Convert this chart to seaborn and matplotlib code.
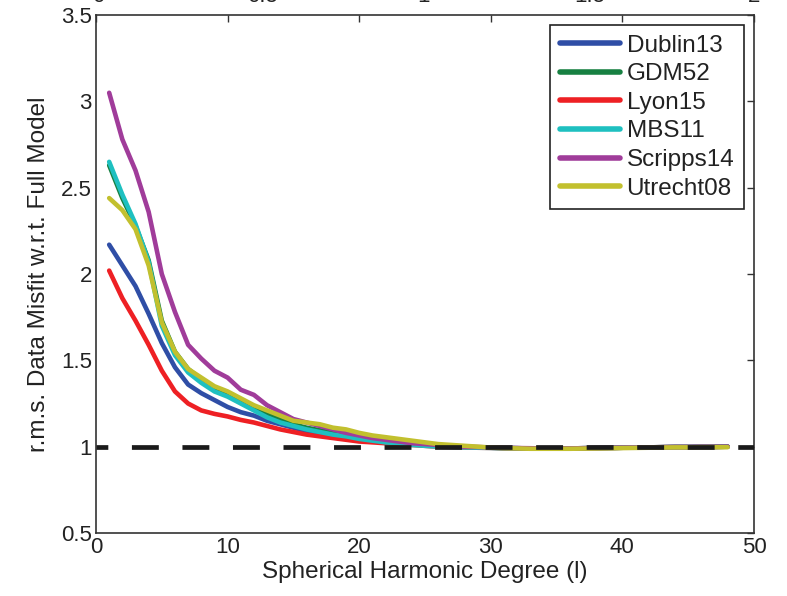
import numpy as np
import pandas as pd
import matplotlib
matplotlib.use("Agg")
import matplotlib.pyplot as plt
import seaborn as sns

# Spherical harmonic degree of each evaluation
degree = list(range(1, 49))

# r.m.s. data misfit of each truncated model w.r.t. the full model
dublin13 = [2.17, 2.05, 1.93, 1.77, 1.60, 1.46, 1.36, 1.31, 1.27, 1.23,
            1.20, 1.18, 1.15, 1.13, 1.11, 1.09, 1.08, 1.07, 1.06, 1.05,
            1.04, 1.03, 1.02, 1.015, 1.01, 1.005, 1.0, 0.998, 0.996, 0.994,
            0.992, 0.991, 0.99, 0.99, 0.99, 0.99, 0.991, 0.992, 0.993, 0.994,
            0.995, 0.996, 0.997, 0.998, 0.998, 0.999, 0.999, 1.0]
gdm52 = [2.63, 2.44, 2.28, 2.08, 1.73, 1.55, 1.45, 1.39, 1.34, 1.31,
         1.27, 1.23, 1.19, 1.16, 1.13, 1.11, 1.095, 1.08, 1.07, 1.055,
         1.045, 1.035, 1.025, 1.015, 1.01, 1.005, 1.0, 0.998, 0.996, 0.994,
         0.992, 0.991, 0.99, 0.99, 0.99, 0.99, 0.991, 0.992, 0.993, 0.994,
         0.995, 0.996, 0.997, 0.998, 0.998, 0.999, 0.999, 1.0]
lyon15 = [2.02, 1.86, 1.73, 1.59, 1.44, 1.32, 1.25, 1.21, 1.19, 1.175,
          1.155, 1.14, 1.12, 1.10, 1.085, 1.07, 1.06, 1.05, 1.04, 1.03,
          1.025, 1.02, 1.015, 1.01, 1.005, 1.0, 0.998, 0.996, 0.994, 0.993,
          0.992, 0.991, 0.99, 0.99, 0.99, 0.99, 0.991, 0.992, 0.993, 0.994,
          0.995, 0.996, 0.997, 0.998, 0.998, 0.999, 0.999, 1.0]
mbs11 = [2.65, 2.46, 2.29, 2.07, 1.70, 1.53, 1.43, 1.37, 1.32, 1.29,
         1.25, 1.21, 1.17, 1.14, 1.12, 1.10, 1.085, 1.07, 1.06, 1.045,
         1.035, 1.025, 1.02, 1.01, 1.005, 1.0, 0.998, 0.996, 0.994, 0.993,
         0.992, 0.991, 0.99, 0.99, 0.99, 0.99, 0.991, 0.992, 0.993, 0.994,
         0.995, 0.996, 0.997, 0.998, 0.998, 0.999, 0.999, 1.0]
scripps14 = [3.05, 2.78, 2.60, 2.36, 2.00, 1.78, 1.59, 1.51, 1.44, 1.40,
             1.33, 1.30, 1.24, 1.20, 1.16, 1.14, 1.12, 1.10, 1.08, 1.065,
             1.05, 1.04, 1.03, 1.02, 1.015, 1.01, 1.005, 1.0, 0.998, 0.995,
             0.993, 0.992, 0.991, 0.99, 0.99, 0.99, 0.991, 0.992, 0.993, 0.994,
             0.995, 0.996, 0.997, 0.998, 0.998, 0.999, 0.999, 1.0]
utrecht08 = [2.44, 2.37, 2.26, 2.05, 1.72, 1.55, 1.45, 1.40, 1.35, 1.32,
             1.28, 1.24, 1.21, 1.18, 1.15, 1.14, 1.13, 1.11, 1.10, 1.08,
             1.065, 1.055, 1.045, 1.035, 1.025, 1.015, 1.01, 1.005, 1.0, 0.995,
             0.992, 0.99, 0.988, 0.988, 0.988, 0.988, 0.989, 0.99, 0.991, 0.992,
             0.993, 0.994, 0.995, 0.996, 0.996, 0.997, 0.997, 0.997]

model_names = ["Dublin13", "GDM52", "Lyon15", "MBS11", "Scripps14", "Utrecht08"]
model_values = [dublin13, gdm52, lyon15, mbs11, scripps14, utrecht08]
model_colors = ["#2f4ea6", "#178042", "#ee2024", "#1ec0c0", "#a03c9a", "#c2c02e"]

reference_level = 1.0

x_ticks = [0, 10, 20, 30, 40, 50]
y_ticks = [0.5, 1.0, 1.5, 2.0, 2.5, 3.0, 3.5]
y_tick_labels = ["0.5", "1", "1.5", "2", "2.5", "3", "3.5"]

# tick labels of the panel above, only their lower edge falls inside this figure
upper_panel_labels = ["0", "0.5", "1", "1.5", "2"]

frame = pd.concat(
    [pd.DataFrame({"degree": degree, "misfit": vals, "model": name})
     for name, vals in zip(model_names, model_values)],
    ignore_index=True,
)

sns.set_theme(style="white")
plt.rcParams["font.family"] = ["Liberation Sans", "DejaVu Sans"]
plt.rcParams["xtick.direction"] = "in"
plt.rcParams["ytick.direction"] = "in"

fig = plt.figure(figsize=(7.87, 5.96), dpi=100)
ax = fig.add_axes([0.122, 0.1057, 0.836, 0.869])

sns.lineplot(
    data=frame, x="degree", y="misfit", hue="model",
    hue_order=model_names, palette=dict(zip(model_names, model_colors)),
    linewidth=3.3, ax=ax, legend=True,
)

ax.axhline(reference_level, color="#1a1a1a", linewidth=3.4,
           linestyle=(3.2, (5.7, 5.0)), zorder=5)

ax.set_xlim(x_ticks[0], x_ticks[-1])
ax.set_ylim(y_ticks[0], y_ticks[-1])
ax.set_xticks(x_ticks)
ax.set_xticklabels([str(t) for t in x_ticks])
ax.set_yticks(y_ticks)
ax.set_yticklabels(y_tick_labels)

ax.tick_params(axis="both", which="major", direction="in", length=5,
               width=1.0, color="#333333", labelsize=16, labelcolor="#222222",
               top=True, right=True, pad=3)
for side in ["left", "right", "top", "bottom"]:
    ax.spines[side].set_visible(True)
    ax.spines[side].set_color("#333333")
    ax.spines[side].set_linewidth(1.2)

ax.set_xlabel("Spherical Harmonic Degree (l)", fontsize=17.5, color="#222222",
              labelpad=2)
ax.set_ylabel("r.m.s. Data Misfit w.r.t. Full Model", fontsize=17.5,
              color="#222222", labelpad=8)

handles, labels = ax.get_legend_handles_labels()
leg = ax.legend(
    handles, labels, loc="upper right",
    bbox_to_anchor=(744 / 787, (596 - 25) / 596), bbox_transform=fig.transFigure,
    fontsize=17.5, handlelength=2.45, handletextpad=0.28, labelspacing=0.27,
    borderpad=0.4, borderaxespad=0.0, frameon=True, fancybox=False,
    framealpha=1.0, edgecolor="#222222",
)
leg.get_frame().set_linewidth(1.2)
for line in leg.get_lines():
    line.set_linewidth(4.0)
for text in leg.get_texts():
    text.set_color("#222222")

for xpix, lab in zip([98, 263, 424, 590, 754], upper_panel_labels):
    fig.text(xpix / 787, 1 - 2.5 / 596, lab, ha="center", va="baseline",
             fontsize=16, color="#222222")

fig.savefig("out.png", dpi=100)
